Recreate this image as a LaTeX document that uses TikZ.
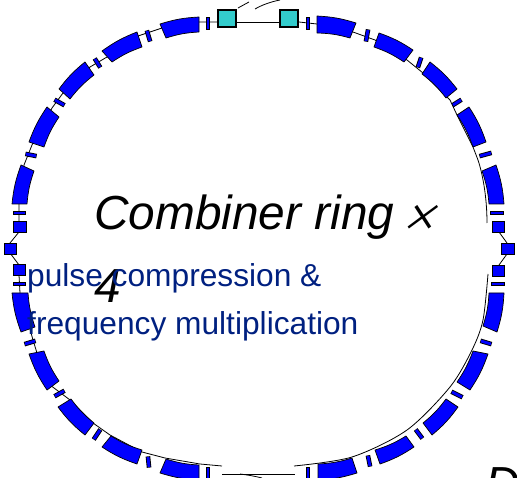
\documentclass[tikz,border=0pt]{standalone}
\usepackage{fontspec}
\setmainfont{Liberation Sans}
\newfontfamily\timesfam[FakeSlant=0.35]{Liberation Serif}
\definecolor{tealbox}{RGB}{51,204,204}
\definecolor{textblue}{RGB}{0,32,128}
\tikzset{
  beam/.style={black,line width=0.8pt},
  dipole/.style={fill=blue,draw=black,line width=0.7pt,line join=round},
  quadbox/.style={fill=blue,draw=black,line width=0.7pt},
  kicker/.style={fill=tealbox,draw=black,line width=2.6pt},
  titletext/.style={anchor=base west,inner sep=0pt,font=\fontsize{47.8}{50}\selectfont\itshape,text=black},
  subtext/.style={anchor=base west,inner sep=0pt,font=\fontsize{31.7}{36}\selectfont,text=textblue}
}
\newcommand{\dip}[4]{\path[dipole] (#1) to[bend left=7] (#2) -- (#3) to[bend right=7] (#4) -- cycle;}
\newcommand{\thinq}[2]{%
  \draw[black,line width=4.6pt,shorten <=-0.6pt,shorten >=-0.6pt] (#1) -- (#2);
  \draw[blue,line width=2.8pt] (#1) -- (#2);}
\begin{document}
\begin{tikzpicture}[x=1pt,y=-1pt]
\useasboundingbox (0,0) rectangle (517,478);
\clip (0,0) rectangle (517,478);
% beam line, left and top
\draw[beam] (222,466) -- (200,464) -- (165,458) -- (142,452) -- (110,435) -- (93,423) -- (70,400) -- (50,385)
  -- (37,353) -- (33,340) -- (20,293) -- (19,275) -- (19,265) -- (10,253) -- (10,243) -- (19,232) -- (19,221)
  -- (19,203) -- (24,165) -- (28,155) -- (32,145) -- (52,108) -- (63,93) -- (90,67) -- (107,57) -- (138,36)
  -- (162,28) -- (199,22) -- (217,22);
\draw[beam] (237,22) -- (279,22);
\draw[beam] (299,22) -- (317,24) -- (353,32) -- (375,40) -- (407,60) -- (423,73) -- (450,100) -- (457,115) -- (473,147)
  -- (478,160);
\draw[beam] (499,232) -- (507,243) (507,254) -- (499,265);
\draw[beam] (222,474) -- (295,474);
% dipoles
\dip{317,16}{356,23}{350,38}{317,33}
\dip{379,33}{413,50}{404,62}{374,47}
\dip{430,62}{457,89}{446,98}{422,74}
\dip{469,107}{486,142}{473,147}{457,115}
\dip{496,165}{504,204}{489,204}{482,171}
\dip{504,293}{497,332}{483,326}{489,293}
\dip{488,354}{470,390}{457,382}{473,351}
\dip{458,407}{432,435}{423,423}{446,399}
\dip{414,447}{380,464}{375,450}{406,436}
\dip{357,473}{318,480}{318,464}{352,458}
\dip{199,480}{160,473}{166,459}{199,465}
\dip{137,464}{102,447}{111,436}{142,450}
\dip{85,435}{58,407}{71,399}{94,423}
\dip{47,390}{29,354}{44,351}{59,381}
\dip{21,332}{12,293}{28,293}{35,327}
\dip{12,204}{21,165}{34,171}{27,204}
\dip{29,142}{47,107}{59,117}{44,147}
\dip{59,89}{85,62}{94,75}{70,99}
\dip{102,51}{137,32}{142,47}{112,62}
\dip{160,24}{199,17}{199,32}{166,38}
% thin quadrupoles
\thinq{208,18}{208,29}
\thinq{308,18}{308,29}
\thinq{368,30}{366,41}
\thinq{421,58}{418,67}
\thinq{461,100}{453,105}
\thinq{491,153}{480,156}
\thinq{491,213}{503,213}
\thinq{492,284}{504,284}
\thinq{481,341}{491,344}
\thinq{452,392}{462,397}
\thinq{416,430}{422,438}
\thinq{368,456}{370,466}
\thinq{308,468}{308,480}
\thinq{208,468}{208,480}
\thinq{148,457}{149,467}
\thinq{94,439}{100,430}
\thinq{55,396}{64,391}
\thinq{25,344}{35,341}
\thinq{14,284}{25,284}
\thinq{14,213}{25,213}
\thinq{26,154}{36,156}
\thinq{55,100}{64,105}
\thinq{95,59}{100,67}
\thinq{147,31}{150,41}
% square magnets
\path[quadbox] (13,221) rectangle (26,232);
\path[quadbox] (4,243) rectangle (16,254);
\path[quadbox] (13,264) rectangle (25,275);
\path[quadbox] (492,221) rectangle (504,232);
\path[quadbox] (501,243) rectangle (514,254);
\path[quadbox] (492,265) rectangle (504,276);
\path[kicker] (218,10) rectangle (236,27);
\path[kicker] (280,10) rectangle (298,27);
% extra thin curves
\draw[beam] (478,160) .. controls (482,172) and (487,195) .. (487,223);
\draw[beam] plot[smooth] coordinates {(488,274) (483,320) (472,350) (450,387) (407,430) (352,457) (294,466)};
\draw[beam] (238,8) -- (249,2);
\draw[beam] (255,9) .. controls (262,5) and (270,2) .. (280,0);
\draw[beam] (240,474) .. controls (248,475) and (254,476) .. (262,478);
% labels
\node[titletext] (title) at (94,230) {Combiner ring\hspace{2pt}\raisebox{-7pt}{\timesfam\fontsize{58}{60}\selectfont ×}};
\node[titletext] (four) at (94,303) {4};
\node[subtext] (sub1) at (27,287) {pulse compression \&};
\node[subtext] (sub2) at (27,335) {frequency multiplication};
\node[titletext] (cut) at (485,500) {D};
\end{tikzpicture}
\end{document}
